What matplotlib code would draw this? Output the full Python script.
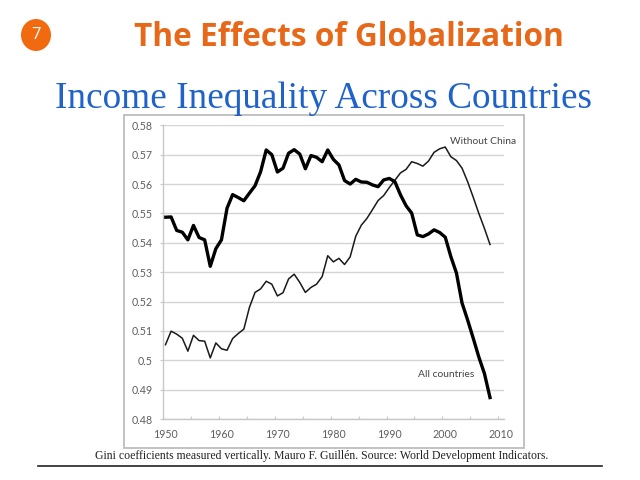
#coding:utf-8
import numpy as np
import matplotlib
matplotlib.use('Agg')
import matplotlib.pyplot as plt
from matplotlib import patches
from matplotlib.lines import Line2D

years=list(range(1950,2009))
all_countries=[.5487,.5488,.5442,.5436,.5410,.5459,.5418,.5410,.5320,.5380,
               .5410,.5518,.5564,.5554,.5543,.5569,.5594,.5642,.5716,.5700,
               .5641,.5654,.5705,.5717,.5702,.5652,.5697,.5691,.5676,.5716,
               .5684,.5665,.5612,.5600,.5616,.5607,.5606,.5597,.5591,.5614,
               .5619,.5608,.5563,.5526,.5501,.5427,.5421,.5430,.5444,.5435,
               .5419,.5353,.5297,.5195,.5137,.5075,.5011,.4955,.4873]
without_china=[.5053,.5099,.5089,.5075,.5031,.5085,.5067,.5065,.5008,.5059,
               .5039,.5034,.5074,.5091,.5106,.5180,.5231,.5243,.5269,.5259,
               .5219,.5230,.5277,.5293,.5265,.5231,.5248,.5259,.5285,.5356,
               .5335,.5347,.5326,.5352,.5422,.5460,.5483,.5513,.5544,.5561,
               .5588,.5613,.5638,.5650,.5676,.5670,.5661,.5678,.5708,.5720,
               .5726,.5693,.5680,.5654,.5608,.5555,.5500,.5449,.5394]
y_ticks=[0.48,0.49,0.5,0.51,0.52,0.53,0.54,0.55,0.56,0.57,0.58]
y_labels=['0.48','0.49','0.5','0.51','0.52','0.53','0.54','0.55','0.56','0.57','0.58']
x_labels=[1950,1960,1970,1980,1990,2000,2010]

W,H=640,480
# 像素坐标转图形坐标
def fx(p):
  return p/W
def fy(p):
  return 1-p/H

fig=plt.figure(figsize=(6.4,4.8),dpi=100)

# 图表外框
frame=patches.Rectangle((fx(124),fy(448)),fx(400),(448-115)/H,transform=fig.transFigure,
                        facecolor='white',edgecolor='#bdbdbd',linewidth=1.3,zorder=-1)
fig.add_artist(frame)

ax=fig.add_axes([fx(162.7),fy(419),(504-162.7)/W,(419-125.3)/H])
ax.patch.set_alpha(0)
ax.set_xlim(1949.5,2010.5)
ax.set_ylim(0.48,0.58)
ax.grid(axis='y',color='#d4d4d4',linewidth=1)
ax.set_axisbelow(True)
ax.plot(years,without_china,color='#1a1a1a',linewidth=1.1,solid_joinstyle='round')
ax.plot(years,all_countries,color='black',linewidth=2.4,solid_joinstyle='round')

for s in ['top','right']:
  ax.spines[s].set_visible(False)
for s in ['left','bottom']:
  ax.spines[s].set_color('#c8c8c8')
  ax.spines[s].set_linewidth(1)

ax.set_yticks(y_ticks)
ax.set_yticklabels(y_labels,fontname='Lato',fontsize=7.7,color='#5e5e5e')
ax.tick_params(axis='y',length=2.5,width=0.8,color='#c8c8c8',pad=5)
ax.set_xticks(np.arange(1949.5,2011,5))
ax.set_xticklabels([])
ax.tick_params(axis='x',which='major',length=2,width=0.8,color='#c8c8c8',direction='in')
ax.set_xticks(x_labels,minor=True)
ax.set_xticklabels(x_labels,minor=True,fontname='Lato',fontsize=7.7,color='#5e5e5e')
ax.tick_params(axis='x',which='minor',length=0,pad=7)

fig.text(fx(450),fy(142),'Without China',fontname='Lato',fontsize=7.4,color='#444444',va='center')
fig.text(fx(418.5),fy(374.5),'All countries',fontname='Lato',fontsize=7.4,color='#444444',va='center')

# 标题
fig.text(fx(349),fy(38),'The Effects of Globalization',fontname='Open Sans',fontweight='bold',
         fontsize=22.8,color='#e8681a',ha='center',va='center')
fig.text(fx(323.5),fy(99),'Income Inequality Across Countries',fontname='Liberation Serif',
         fontsize=26.8,color='#1f62c9',ha='center',va='center')

badge=patches.Ellipse((fx(36),fy(35)),30/W,32/H,transform=fig.transFigure,facecolor='#f26a0f',edgecolor='none')
fig.add_artist(badge)
fig.text(fx(36),fy(35),'7',fontname='Open Sans',fontsize=12,color='white',ha='center',va='center')

# 底部说明
fig.text(fx(322),fy(456),'Gini coefficients measured vertically. Mauro F. Guillén. Source: World Development Indicators.',
         fontname='Liberation Serif',fontsize=8.5,color='#222222',ha='center',va='center')
fig.add_artist(Line2D([fx(38),fx(602)],[fy(466),fy(466)],transform=fig.transFigure,color='#222222',linewidth=1.2))

plt.savefig('out.png',dpi=100)
